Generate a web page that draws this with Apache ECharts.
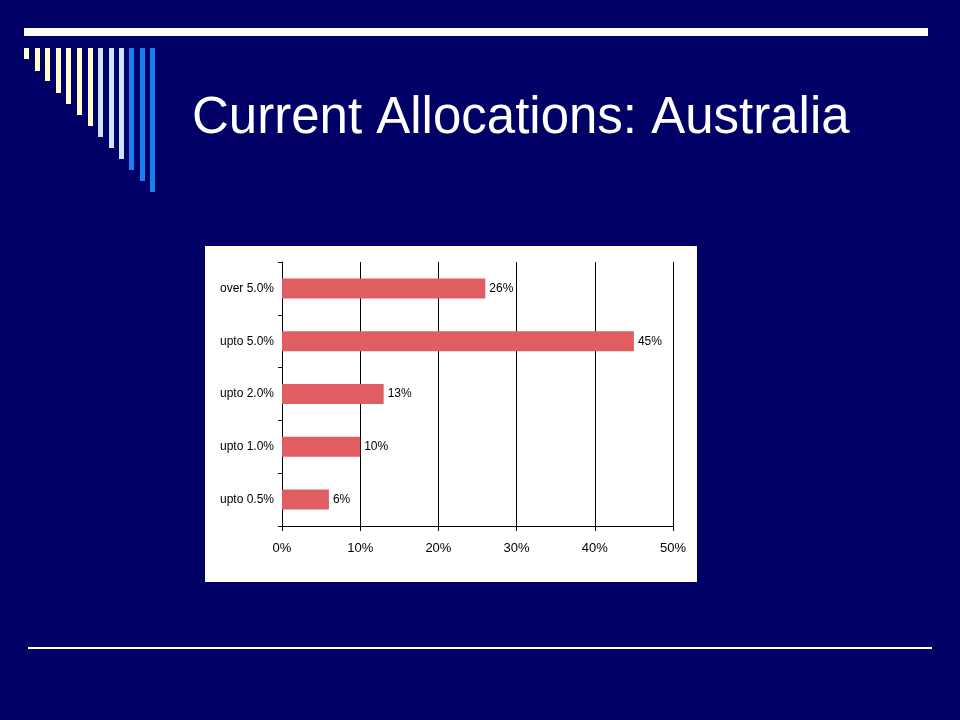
<!DOCTYPE html>
<html>
<head>
<meta charset="utf-8">
<script src="https://cdn.jsdelivr.net/npm/echarts@6/dist/echarts.min.js"></script>
<style>
html,body{margin:0;padding:0;background:#000066;}
#chart{width:960px;height:720px;}
</style>
</head>
<body>
<div id="chart"></div>
<script>
const titleText = "Current Allocations: Australia";
const categories = ["upto 0.5%", "upto 1.0%", "upto 2.0%", "upto 5.0%", "over 5.0%"];
const values = [6, 10, 13, 45, 26];
const xTicks = { min: 0, max: 50, interval: 10 };

// decorative stripes (slide template)
const stripeColors = ["#FFFFCC","#FFFFCC","#FFFFCC","#FFFFCC","#FFFFCC","#FFFFCC","#FFFFCC",
  "#CCE5FF","#CCE5FF","#CCE5FF","#1A80F0","#1A80F0","#1A80F0"];
const stripeX = [24,35,45,56,66,77,88,98,109,119,129,140,150];
const stripeBottom = [59,71,81,93,104,115,126,137,148,159,170,181,192];

const graphics = [
  { type: 'rect', shape: { x: 24, y: 28, width: 904, height: 8 }, style: { fill: '#FFFFFF' }, z: 0 },
  { type: 'rect', shape: { x: 28, y: 647, width: 904, height: 2 }, style: { fill: '#FFFFFF' }, z: 0 },
  { type: 'rect', shape: { x: 205, y: 246, width: 492, height: 336 }, style: { fill: '#FFFFFF' }, z: 0 }
];
stripeX.forEach((x, i) => {
  graphics.push({ type: 'rect', shape: { x: x, y: 48, width: 5, height: stripeBottom[i] - 48 },
    style: { fill: stripeColors[i] }, z: 0 });
});

const chart = echarts.init(document.getElementById('chart'));
chart.setOption({
  backgroundColor: '#000066',
  animation: false,
  graphic: graphics,
  title: {
    text: titleText,
    left: 187, top: 88,
    textStyle: { color: '#FFFFFF', fontFamily: 'Arial, "Liberation Sans", sans-serif', fontSize: 51, fontWeight: 'normal' }
  },
  grid: {
    left: 282, top: 262, width: 391, height: 264,
    show: true, backgroundColor: '#FFFFFF', borderColor: '#000000', borderWidth: 1
  },
  xAxis: {
    type: 'value', min: xTicks.min, max: xTicks.max, interval: xTicks.interval,
    axisLine: { show: true, lineStyle: { color: '#000000', width: 1 } },
    axisTick: { show: true, length: 5, lineStyle: { color: '#000000' } },
    splitLine: { show: true, lineStyle: { color: '#000000', width: 1 } },
    axisLabel: { formatter: '{value}%', color: '#000000', fontSize: 13, margin: 16,
      fontFamily: 'Arial, "Liberation Sans", sans-serif' }
  },
  yAxis: {
    type: 'category', data: categories,
    axisLine: { show: true, lineStyle: { color: '#000000', width: 1 } },
    axisTick: { show: true, length: 4, lineStyle: { color: '#000000' } },
    axisLabel: { color: '#000000', fontSize: 12, margin: 8,
      fontFamily: 'Arial, "Liberation Sans", sans-serif' }
  },
  series: [{
    type: 'bar', data: values, barWidth: 20,
    itemStyle: { color: '#E05E62' },
    label: { show: true, position: 'right', distance: 4, formatter: '{c}%', color: '#000000',
      fontSize: 12, fontFamily: 'Arial, "Liberation Sans", sans-serif' }
  }]
});
</script>
</body>
</html>
